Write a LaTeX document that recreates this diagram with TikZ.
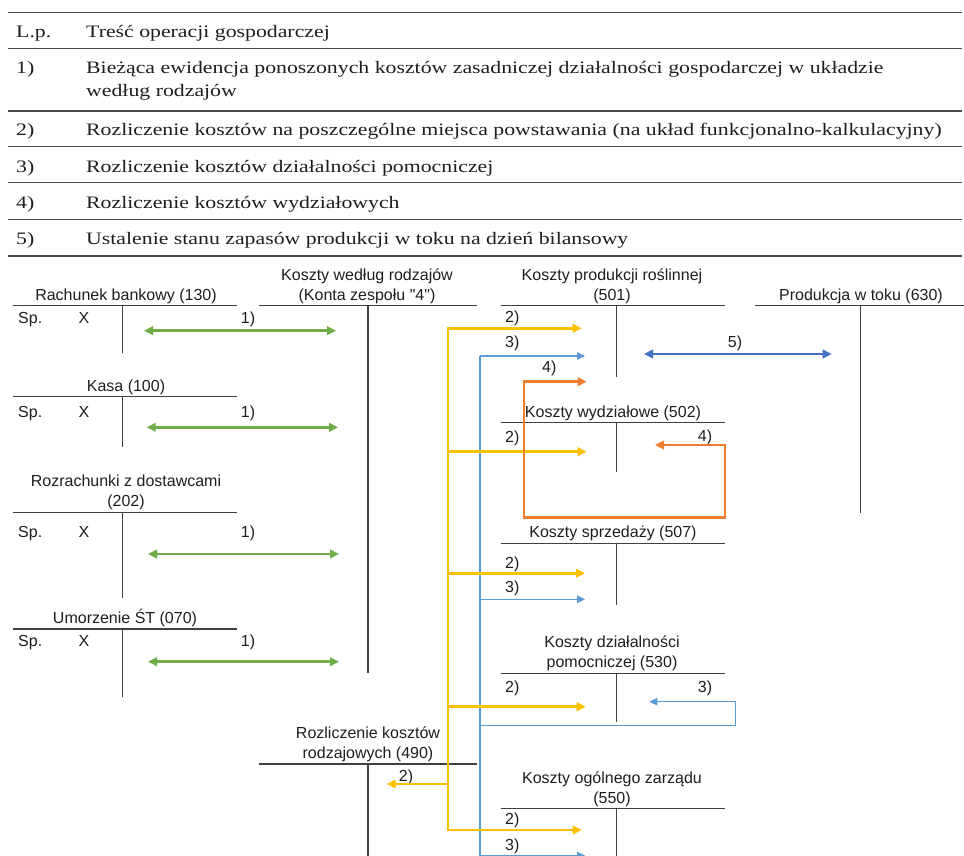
\documentclass[tikz,border=0pt]{standalone}
\usepackage{fontspec}
\setmainfont{Liberation Sans}
\newfontfamily\tabfont[FakeStretch=1.245]{Liberation Serif}
\font\plainq="Liberation Sans" at 16pt
\usetikzlibrary{arrows.meta}
\definecolor{ink}{HTML}{1E1E1E}
\definecolor{rulec}{HTML}{4A4A4A}
\definecolor{grn}{HTML}{70AD47}
\definecolor{yel}{HTML}{FFC000}
\definecolor{org}{HTML}{ED7D31}
\definecolor{lbl}{HTML}{5B9BD5}
\definecolor{dbl}{HTML}{4472C4}
\begin{document}
\begin{tikzpicture}[x=1pt,y=-1pt,
  rule/.style={draw=rulec,line width=1.4pt},
  tline/.style={draw=ink!85,line width=1.4pt},
  tab/.style={font=\tabfont\fontsize{17.5}{21}\selectfont,anchor=base west,inner sep=0pt,text=ink},
  lab/.style={font=\fontsize{16}{19}\selectfont,anchor=base,inner sep=0pt,text=ink},
  labw/.style={lab,anchor=base west},
  garr/.style={draw=grn,line width=2.5pt,{Triangle[length=9pt,width=8.5pt]}-{Triangle[length=9pt,width=8.5pt]}},
  darr/.style={draw=dbl,line width=2.5pt,{Triangle[length=9pt,width=8.5pt]}-{Triangle[length=9pt,width=8.5pt]}},
  yarr/.style={draw=yel,line width=2.5pt,-{Triangle[length=9pt,width=8.5pt]}},
  oarr/.style={draw=org,line width=2.5pt,{Triangle[length=9pt,width=8.5pt]}-{Triangle[length=9pt,width=8.5pt]}},
  barr/.style={draw=lbl,line width=1.3pt,-{Triangle[length=8pt,width=7.5pt]}},
  bline/.style={draw=lbl,line width=1.3pt}]
\useasboundingbox (0,0) rectangle (964,856);
\clip (0,0) rectangle (964,856);

% ---------- table ----------
\foreach \yy in {12.7,48.3,111,146.7,182.7,219.3,256}
  \draw[rule] (8,\yy) -- (962,\yy);
\node[tab] (h1) at (16,37.5) {L.p.};
\node[tab] (h2) at (86,37.5) {Treść operacji gospodarczej};
\node[tab] (r1n) at (16,74) {1)};
\node[tab] (r1a) at (86,74) {Bieżąca ewidencja ponoszonych kosztów zasadniczej działalności gospodarczej w układzie};
\node[tab] (r1b) at (86,97) {według rodzajów};
\node[tab] (r2n) at (16,136) {2)};
\node[tab] (r2) at (86,136) {Rozliczenie kosztów na poszczególne miejsca powstawania (na układ funkcjonalno-kalkulacyjny)};
\node[tab] (r3n) at (16,172) {3)};
\node[tab] (r3) at (86,172) {Rozliczenie kosztów działalności pomocniczej};
\node[tab] (r4n) at (16,208) {4)};
\node[tab] (r4) at (86,208) {Rozliczenie kosztów wydziałowych};
\node[tab] (r5n) at (16,244) {5)};
\node[tab] (r5) at (86,244) {Ustalenie stanu zapasów produkcji w toku na dzień bilansowy};

% ---------- T accounts ----------
% 130
\node[lab] (t130) at (126,300) {Rachunek bankowy (130)};
\draw[tline] (13,305.7) -- (237,305.7) (122.7,305.7) -- (122.7,353);
\node[labw] (sp130) at (18,323) {Sp.};
\node[lab] (x130) at (84,323) {X};
\node[lab] (n130) at (248,323) {1)};
% 100
\node[lab] (t100) at (126,391.5) {Kasa (100)};
\draw[tline] (13,396.7) -- (237,396.7) (122.7,396.7) -- (122.7,447);
\node[labw] (sp100) at (18,417) {Sp.};
\node[lab] (x100) at (84,417) {X};
\node[lab] (n100) at (248,417) {1)};
% 202
\node[lab] (t202a) at (126,486.5) {Rozrachunki z dostawcami};
\node[lab] (t202b) at (126,506.5) {(202)};
\draw[tline] (13,512.3) -- (237,512.3) (122.7,512.3) -- (122.7,598.3);
\node[labw] (sp202) at (18,537.5) {Sp.};
\node[lab] (x202) at (84,537.5) {X};
\node[lab] (n202) at (248,537.5) {1)};
% 070
\node[lab] (t070) at (125,623) {Umorzenie ŚT (070)};
\draw[tline] (13,629) -- (237,629) (122.7,629) -- (122.7,697.3);
\node[labw] (sp070) at (18,646) {Sp.};
\node[lab] (x070) at (84,646) {X};
\node[lab] (n070) at (248,646) {1)};
% koszty wg rodzajow
\node[lab] (t4a) at (367,280) {Koszty według rodzajów};
\node[lab] (t4b) at (367,300) {(Konta zespołu {\plainq"4"})};
\draw[tline] (259,305.7) -- (477,305.7) (368,305.7) -- (368,673.3);
% 490
\node[lab] (t490a) at (368,738) {Rozliczenie kosztów};
\node[lab] (t490b) at (368,758) {rodzajowych (490)};
\draw[tline] (259,764) -- (477,764) (368,764) -- (368,860);
\node[lab] (n490) at (406,781.5) {2)};
% 501
\node[lab] (t501a) at (612,280) {Koszty produkcji roślinnej};
\node[lab] (t501b) at (612,300) {(501)};
\draw[tline] (501,305.7) -- (725,305.7) (616.3,305.7) -- (616.3,377.3);
\node[labw] (n501a) at (505,322) {2)};
\node[labw] (n501b) at (505,347.5) {3)};
\node[lab] (n501c) at (549.3,372) {4)};
% 630
\node[lab] (t630) at (861,300) {Produkcja w toku (630)};
\draw[tline] (755,305.7) -- (966,305.7) (860.7,305.7) -- (860.7,513.3);
\node[lab] (n630) at (735,347.5) {5)};
% 502
\node[lab] (t502) at (613,417.5) {Koszty wydziałowe (502)};
\draw[tline] (501,422.7) -- (725,422.7) (616.3,422.7) -- (616.3,471.7);
\node[labw] (n502a) at (505,442) {2)};
\node[lab] (n502b) at (705,441) {4)};
% 507
\node[lab] (t507) at (613,537.5) {Koszty sprzedaży (507)};
\draw[tline] (501,543.3) -- (725,543.3) (616.3,543.3) -- (616.3,605);
\node[labw] (n507a) at (505,568) {2)};
\node[labw] (n507b) at (505,592.5) {3)};
% 530
\node[lab] (t530a) at (612,647.5) {Koszty działalności};
\node[lab] (t530b) at (612,667.5) {pomocniczej (530)};
\draw[tline] (501,673.3) -- (725,673.3) (616.3,673.3) -- (616.3,722.3);
\node[labw] (n530a) at (505,692) {2)};
\node[lab] (n530b) at (705,692) {3)};
% 550
\node[lab] (t550a) at (612,783) {Koszty ogólnego zarządu};
\node[lab] (t550b) at (612,803) {(550)};
\draw[tline] (501,808.3) -- (725,808.3) (616.3,808.3) -- (616.3,860);
\node[labw] (n550a) at (505,824) {2)};
\node[labw] (n550b) at (505,850) {3)};

% ---------- connectors ----------
% green 1)
\coordinate (g1a) at (144,330.7);   \coordinate (g1b) at (336,330.7);
\coordinate (g2a) at (146.7,427.3); \coordinate (g2b) at (338,427.3);
\coordinate (g3a) at (148,554);     \coordinate (g3b) at (339,554);
\coordinate (g4a) at (148,661.7);   \coordinate (g4b) at (339,661.7);
\draw[garr] (g1a) -- (g1b);
\draw[garr] (g2a) -- (g2b);
\draw[garr] (g3a) -- (g3b);
\draw[garr] (g4a) -- (g4b);

% blue 5)
\coordinate (d5a) at (644,354); \coordinate (d5b) at (831.7,354);
\draw[darr] (d5a) -- (d5b);

% light blue 3)
\coordinate (bTop) at (480,356);
\coordinate (bBot) at (480,862);
\coordinate (b501) at (585,356);
\coordinate (b507) at (585,599.3);
\coordinate (b550) at (585,855.5);
\coordinate (bOut) at (480,725.7);
\coordinate (bCorner) at (735.7,701.7);
\coordinate (b530) at (649.3,701.7);
\draw[bline] (bTop) -- (bBot);
\draw[barr] (bTop) -- (b501);
\draw[barr] (b507 -| bTop) -- (b507);
\draw[barr] (b550 -| bTop) -- (b550);
\draw[barr] (bOut) -| (bCorner) -- (b530);

% yellow 2)
\coordinate (yMid) at (448,600);
\coordinate (y501) at (581.7,328.3);
\coordinate (y502) at (586.7,451.7);
\coordinate (y507) at (585,573.3);
\coordinate (y530) at (585.7,706.7);
\coordinate (y550) at (581.7,830);
\coordinate (y490) at (386.7,784);
\draw[yarr] (yMid) |- (y501);
\draw[yarr] (yMid) |- (y550);
\draw[yarr] (y502 -| yMid) -- (y502);
\draw[yarr] (y507 -| yMid) -- (y507);
\draw[yarr] (y530 -| yMid) -- (y530);
\draw[yarr] (y490 -| yMid) -- (y490);

% orange 4)
\coordinate (o502) at (655,445);
\coordinate (oR) at (725,517.7);
\coordinate (oL) at (524,381.7);
\coordinate (o501) at (586.7,381.7);
\draw[oarr] (o502) -| (oR) -| (oL) -- (o501);
\end{tikzpicture}
\end{document}
